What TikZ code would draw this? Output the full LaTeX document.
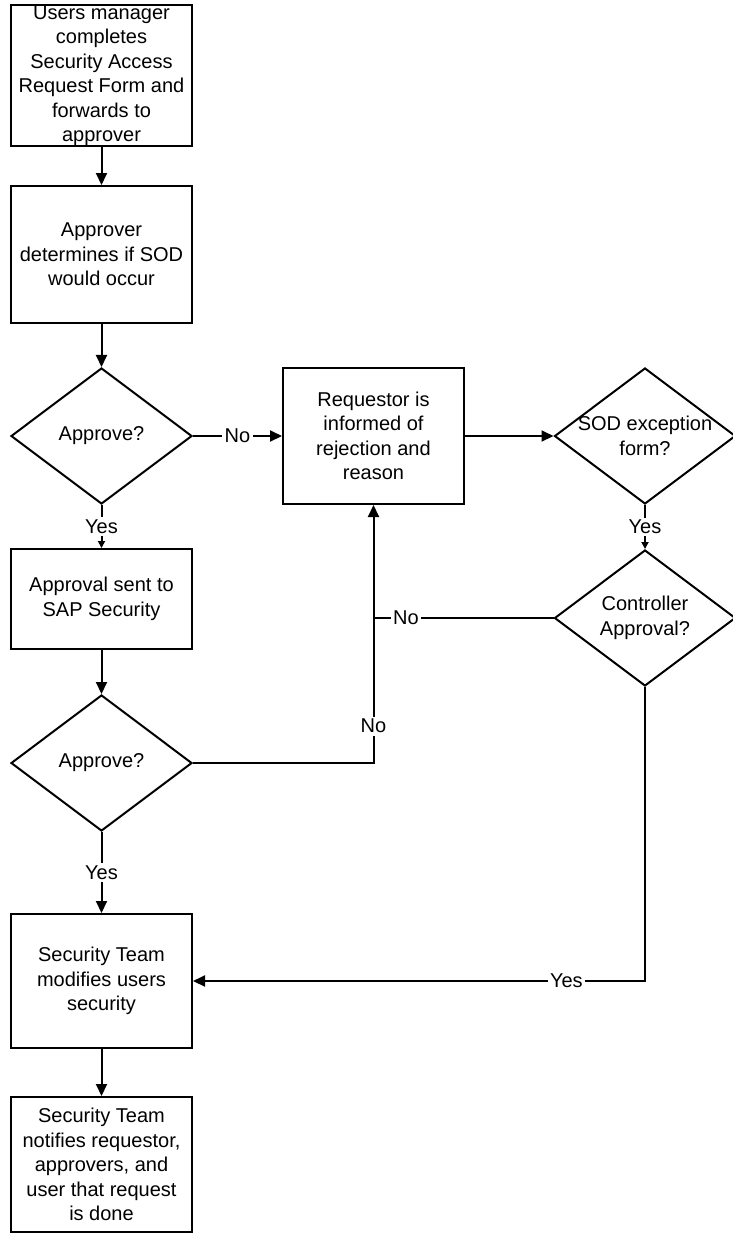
\documentclass[tikz,border=0pt]{standalone}
\usepackage{fontspec}
\setmainfont{Liberation Sans}
\usetikzlibrary{shapes.geometric,arrows.meta}
\begin{document}
\begin{tikzpicture}[x=1pt,y=-1pt,
  every node/.style={font=\fontsize{20}{24.5}\selectfont},
  box/.style={draw,line width=2pt,rectangle,minimum width=181pt,inner sep=0pt,align=center},
  dia/.style={draw,line width=2pt,diamond,inner sep=0pt,minimum width=181pt,minimum height=136pt},
  txt/.style={align=center,inner sep=0pt},
  lbl/.style={fill=white,inner sep=2.5pt},
  conn/.style={line width=2pt},
  arr/.style={conn,-{Triangle[length=12pt,width=11pt]}},
  sarr/.style={conn,-{Triangle[length=7pt,width=7pt]}}]
\useasboundingbox (0,0) rectangle (732,1234);
\fill[white] (0,0) rectangle (732,1234);

\node[box,minimum height=137pt] (b1) at (101.5,75.5) {Users manager\\completes\\Security Access\\Request Form and\\forwards to\\approver};
\node[box,minimum height=137pt] (b2) at (101.5,254.5) {Approver\\determines if SOD\\would occur};
\node[dia] (d1) at (101.5,436) {};
\node[txt] (d1t) at (d1) {Approve?};
\node[box,minimum height=136pt] (b3) at (373.5,436) {Requestor is\\informed of\\rejection and\\reason};
\node[dia] (d2) at (645,436) {};
\node[txt] (d2t) at (d2) {SOD exception\\form?};
\node[dia] (d3) at (645,618) {};
\node[txt] (d3t) at (d3) {Controller\\Approval?};
\node[box,minimum height=100pt] (b4) at (101.5,599) {Approval sent to\\SAP Security};
\node[dia] (d4) at (101.5,763) {};
\node[txt] (d4t) at (d4) {Approve?};
\node[box,minimum height=134pt] (b5) at (101.5,981) {Security Team\\modifies users\\security};
\node[box,minimum height=135pt] (b6) at (101.5,1164.5) {Security Team\\notifies requestor,\\approvers, and\\user that request\\is done};

\coordinate (j1) at (373.5,763);
\coordinate (j2) at (373.5,618);

\draw[arr] (b1) -- (b2);
\draw[arr] (b2) -- (d1);
\draw[arr] (d1.east) -- node[lbl]{No} (b3.west);
\draw[sarr] (d1.south) -- node[lbl]{Yes} (b4.north);
\draw[arr] (b3.east) -- (d2.west);
\draw[sarr] (d2.south) -- node[lbl]{Yes} (d3.north);
\draw[conn] (d3.west) -- node[lbl,pos=0.82]{No} (j2);
\draw[arr] (b4) -- (d4);
\draw[arr] (d4.east) -- (j1) -- node[lbl,pos=0.143]{No} (b3.south);
\draw[arr] (d4.south) -- node[lbl]{Yes} (b5.north);
\draw[arr] (d3.south) |- node[lbl,pos=0.587]{Yes} (b5.east);
\draw[arr] (b5) -- (b6);
\end{tikzpicture}
\end{document}
